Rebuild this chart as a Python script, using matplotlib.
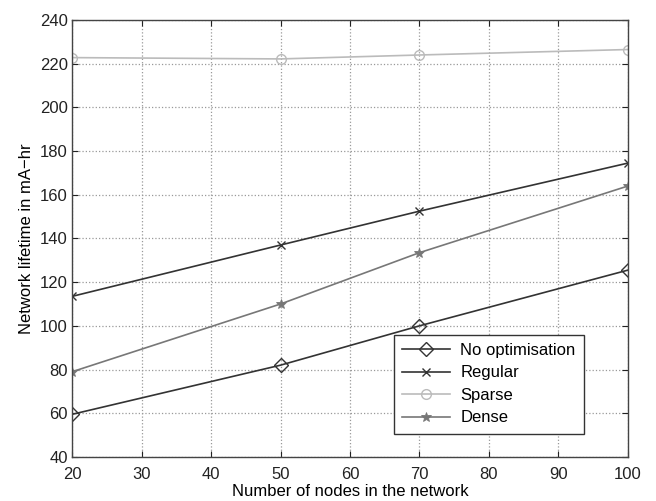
import matplotlib
matplotlib.use('Agg')
import matplotlib.pyplot as plt

plt.rcParams['font.family'] = ['Liberation Sans', 'DejaVu Sans']

nodes = [20, 50, 70, 100]
no_opt = [59.5, 82, 100, 125.5]
regular = [113.5, 137, 152.5, 174.5]
sparse = [222.8, 222.2, 224, 226.5]
dense = [79, 110, 133.5, 164]

fig = plt.figure(figsize=(6.56, 5.01), dpi=100)
ax = fig.add_axes([0.11, 0.088, 0.847, 0.872])

ax.plot(nodes, no_opt, '-D', color='#333333', mfc='none', ms=7, mew=1.0, lw=1.2, label='No optimisation')
ax.plot(nodes, regular, '-x', color='#333333', ms=6, mew=1.0, lw=1.2, label='Regular')
ax.plot(nodes, sparse, '-o', color='#bbbbbb', mfc='none', ms=7, mew=1.0, lw=1.2, label='Sparse')
ax.plot(nodes, dense, '-*', color='#777777', ms=7, mew=0.6, lw=1.2, label='Dense')

ax.set_xlim(20, 100)
ax.set_ylim(40, 240)
ax.set_xticks(range(20, 101, 10))
ax.set_yticks(range(40, 241, 20))
ax.grid(True, linestyle=':', color='#999999', linewidth=0.9)
ax.tick_params(direction='in', top=True, right=True, labelsize=12, length=4,
               colors='#222222', pad=3)
ax.tick_params(axis='x', pad=7)
for s in ax.spines.values():
    s.set_color('#444444')
    s.set_linewidth(1.0)

ax.set_xlabel('Number of nodes in the network', fontsize=12, labelpad=2)
ax.set_ylabel('Network lifetime in mA\u2212hr', fontsize=12, labelpad=4)

leg = ax.legend(loc='lower right', bbox_to_anchor=(0.921, 0.053), fontsize=12,
                fancybox=False, framealpha=1, edgecolor='#333333',
                handlelength=2.9, handletextpad=0.6, borderpad=0.5,
                labelspacing=0.45, borderaxespad=0)
leg.get_frame().set_linewidth(1.0)

fig.savefig('out.png', dpi=100)
